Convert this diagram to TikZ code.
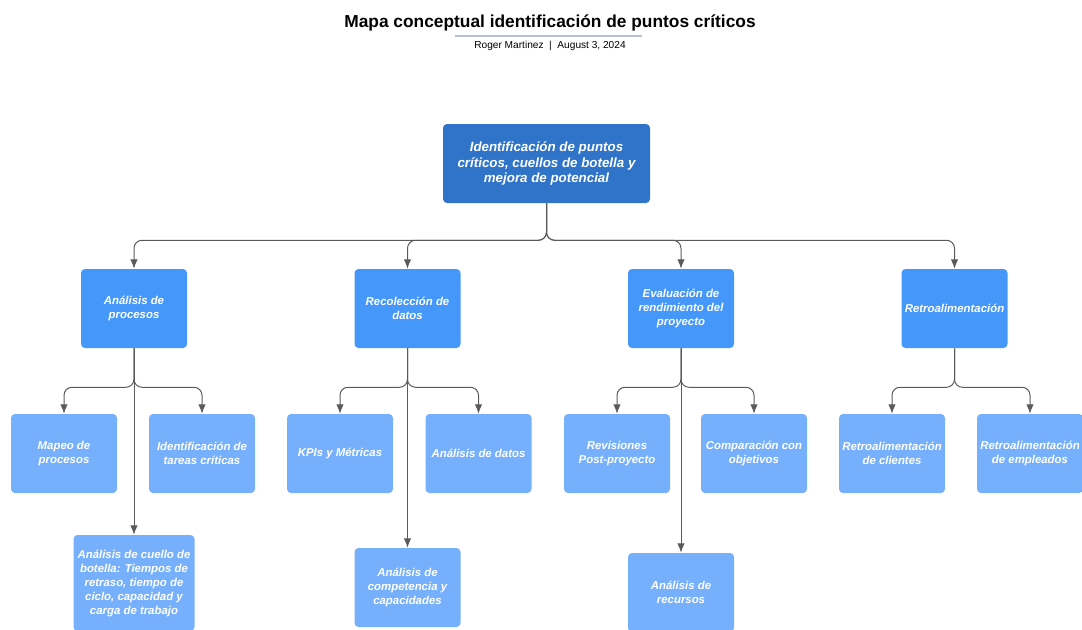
\documentclass[tikz,border=0pt]{standalone}
\usepackage{fontspec}
\setmainfont{Liberation Sans}
\usetikzlibrary{arrows.meta}
\definecolor{rootblue}{HTML}{2F74C9}
\definecolor{midblue}{HTML}{4597FA}
\definecolor{leafblue}{HTML}{76B0FC}
\definecolor{linegray}{HTML}{5A5A5A}
\definecolor{rulegray}{HTML}{B9BECB}
\tikzset{
  box/.style={rectangle, rounded corners=3pt, text=white, align=center, inner sep=0pt,
    minimum width=79.5pt, minimum height=59.25pt,
    font=\fontsize{8.55}{10.5}\selectfont\bfseries\itshape},
  rootbox/.style={box, fill=rootblue, minimum width=155.25pt,
    font=\fontsize{10}{11.6}\selectfont\bfseries\itshape},
  midbox/.style={box, fill=midblue},
  leafbox/.style={box, fill=leafblue},
  link/.style={draw=linegray, line width=0.75pt, rounded corners=6pt, -{Latex[length=7pt,width=5.5pt]}}
}
\begin{document}
\begin{tikzpicture}[x=0.75pt, y=-0.75pt]
		\clip (0,0) rectangle (1082,629);
		\node[font=\fontsize{13}{15}\selectfont\bfseries] (Title) at (550,23) {Mapa conceptual identificación de puntos críticos};
		\draw[rulegray, line width=1.2pt] (455,36) -- (642,36);
		\node[font=\fontsize{7.6}{9}\selectfont] (Byline) at (550,46) {Roger Martinez~~|~~August 3, 2024};

		\node[rootbox] (Root) at (546.5,163.5) {Identificación de puntos\\críticos, cuellos de botella y\\mejora de potencial};

		\node[midbox] (AnaProc) at (134,308.5) {Análisis de\\procesos};
		\node[midbox] (RecDatos) at (407.5,308.5) {Recolección de\\datos};
		\node[midbox] (EvalRend) at (681,308.5) {Evaluación de\\rendimiento del\\proyecto};
		\node[midbox] (Retro) at (954.5,308.5) {Retroalimentación};

		\node[leafbox] (Mapeo) at (64,453.5) {Mapeo de\\procesos};
		\node[leafbox] (TareasCrit) at (202,453.5) {Identificación de\\tareas críticas};
		\node[leafbox, minimum width=90.75pt, minimum height=72pt] (Cuello) at (134,583) {Análisis de cuello de\\botella: Tiempos de\\retraso, tiempo de\\ciclo, capacidad y\\carga de trabajo};

		\node[leafbox] (Kpis) at (340,453.5) {KPIs y Métricas};
		\node[leafbox] (AnaDatos) at (478.5,453.5) {Análisis de datos};
		\node[leafbox] (Compet) at (407.5,587.5) {Análisis de\\competencia y\\capacidades};

		\node[leafbox] (Revis) at (617,453.5) {Revisiones\\Post-proyecto};
		\node[leafbox] (Compar) at (754,453.5) {Comparación con\\objetivos};
		\node[leafbox] (Recursos) at (681,592.5) {Análisis de\\recursos};

		\node[leafbox] (RetroCli) at (892,453.5) {Retroalimentación\\de clientes};
		\node[leafbox] (RetroEmp) at (1030,453.5) {Retroalimentación\\de empleados};

		\draw[link] (Root.south) -- ++(0,37) -| (AnaProc.north);
		\draw[link] (Root.south) -- ++(0,37) -| (RecDatos.north);
		\draw[link] (Root.south) -- ++(0,37) -| (EvalRend.north);
		\draw[link] (Root.south) -- ++(0,37) -| (Retro.north);

		\draw[link] (AnaProc.south) -- ++(0,39) -| (Mapeo.north);
		\draw[link] (AnaProc.south) -- ++(0,39) -| (TareasCrit.north);
		\draw[link] (AnaProc.south) -- (Cuello.north);

		\draw[link] (RecDatos.south) -- ++(0,39) -| (Kpis.north);
		\draw[link] (RecDatos.south) -- ++(0,39) -| (AnaDatos.north);
		\draw[link] (RecDatos.south) -- (Compet.north);

		\draw[link] (EvalRend.south) -- ++(0,39) -| (Revis.north);
		\draw[link] (EvalRend.south) -- ++(0,39) -| (Compar.north);
		\draw[link] (EvalRend.south) -- (Recursos.north);

		\draw[link] (Retro.south) -- ++(0,39) -| (RetroCli.north);
		\draw[link] (Retro.south) -- ++(0,39) -| (RetroEmp.north);
	\end{tikzpicture}
\end{document}
